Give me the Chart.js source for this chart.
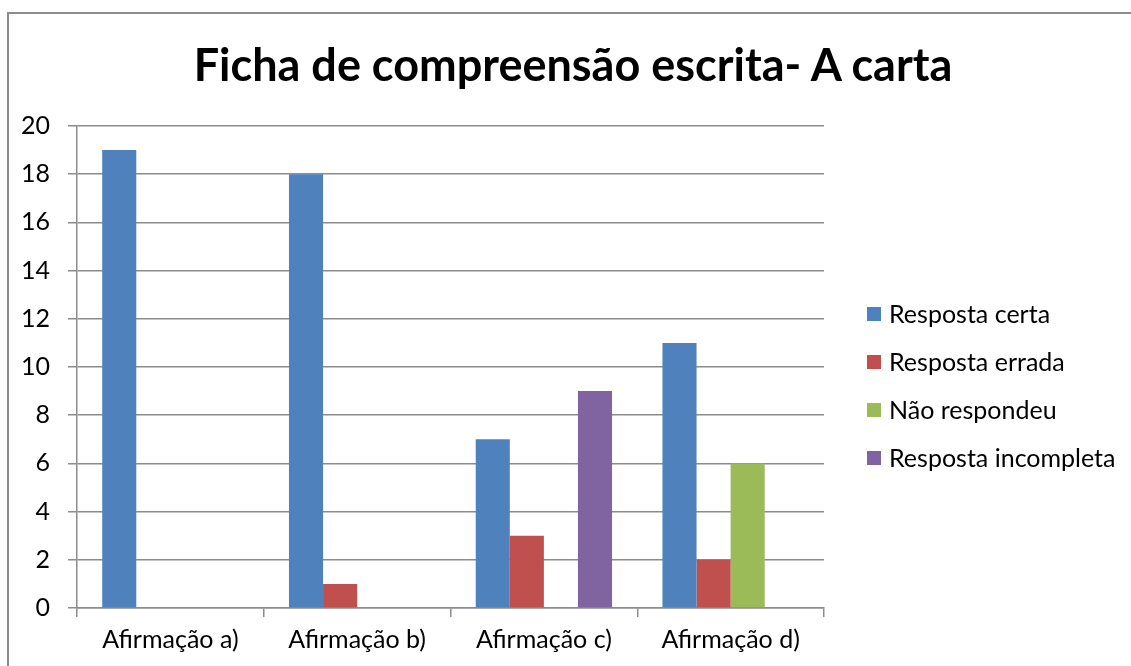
<!DOCTYPE html>
<html>
<head>
<meta charset="utf-8">
<script src="https://cdn.jsdelivr.net/npm/chart.js@4/dist/chart.umd.min.js"></script>
<style>
  body { margin: 0; background: #fff; overflow: hidden; }
  #frame { position: absolute; left: 7px; top: 12px; width: 1140px; height: 700px; border: 2px solid #8c8c8c; }
  #wrap { position: absolute; left: 0; top: 0; width: 1131px; height: 666px; }
  #title { position: absolute; left: 0; top: 38px; width: 1146px; text-align: center; line-height: 52px;
           font-family: Lato, sans-serif; font-weight: bold; font-size: 45px; color: #000; }
  #legend { position: absolute; left: 867px; top: 299px; font-family: Lato, sans-serif; font-size: 25px; color: #000; }
  .item { height: 48px; line-height: 28px; display: flex; align-items: flex-start; }
  .box { width: 14px; height: 14px; margin-top: 8px; margin-right: 8px; }
</style>
</head>
<body>
<div id="frame"></div>
<div id="wrap"><canvas id="chart" width="1131" height="666"></canvas></div>
<div id="title"></div>
<div id="legend"></div>
<script>
const chartTitle = "Ficha de compreensão escrita- A carta";
const categories = ["Afirmação a)", "Afirmação b)", "Afirmação c)", "Afirmação d)"];
const seriesNames = ["Resposta certa", "Resposta errada", "Não respondeu", "Resposta incompleta"];
const respostaCerta = [19, 18, 7, 11];
const respostaErrada = [0, 1, 3, 2];
const naoRespondeu = [0, 0, 0, 6];
const respostaIncompleta = [0, 0, 9, 0];
const colors = ["#4f81bd", "#c0504d", "#9bbb59", "#8064a2"];

const allSeries = [respostaCerta, respostaErrada, naoRespondeu, respostaIncompleta];
const gridGray = "#8c8c8c";
const tickFont = { family: "Lato", size: 25 };

document.getElementById("title").textContent = chartTitle;

const datasets = allSeries.map((values, i) => ({
    label: seriesNames[i],
    data: values,
    backgroundColor: colors[i],
    borderWidth: 0,
    categoryPercentage: 0.73,
    barPercentage: 1
}));

new Chart(document.getElementById("chart"), {
    type: "bar",
    data: { labels: categories, datasets: datasets },
    options: {
        responsive: false,
        animation: false,
        layout: { padding: { left: 0, right: 307, top: 126, bottom: 0 } },
        plugins: {
            legend: { display: false },
            tooltip: { enabled: false },
            title: { display: false }
        },
        scales: {
            x: {
                afterFit: s => { s.height = 58; },
                grid: { drawOnChartArea: false, tickLength: 9, color: gridGray, lineWidth: 1.5 },
                border: { color: gridGray, width: 1.5 },
                ticks: { color: "#000", padding: 8, font: tickFont }
            },
            y: {
                min: 0,
                max: 20,
                afterFit: s => { s.width = 77; },
                grid: { tickLength: 9, color: gridGray, lineWidth: 1.5 },
                border: { color: gridGray, width: 1.5 },
                ticks: { stepSize: 2, color: "#000", padding: 18, font: tickFont }
            }
        }
    }
});

const legend = document.getElementById("legend");
seriesNames.forEach((name, i) => {
    const row = document.createElement("div");
    row.className = "item";
    row.innerHTML = `<span class="box" style="background:${colors[i]}"></span><span>${name}</span>`;
    legend.appendChild(row);
});
</script>
</body>
</html>
